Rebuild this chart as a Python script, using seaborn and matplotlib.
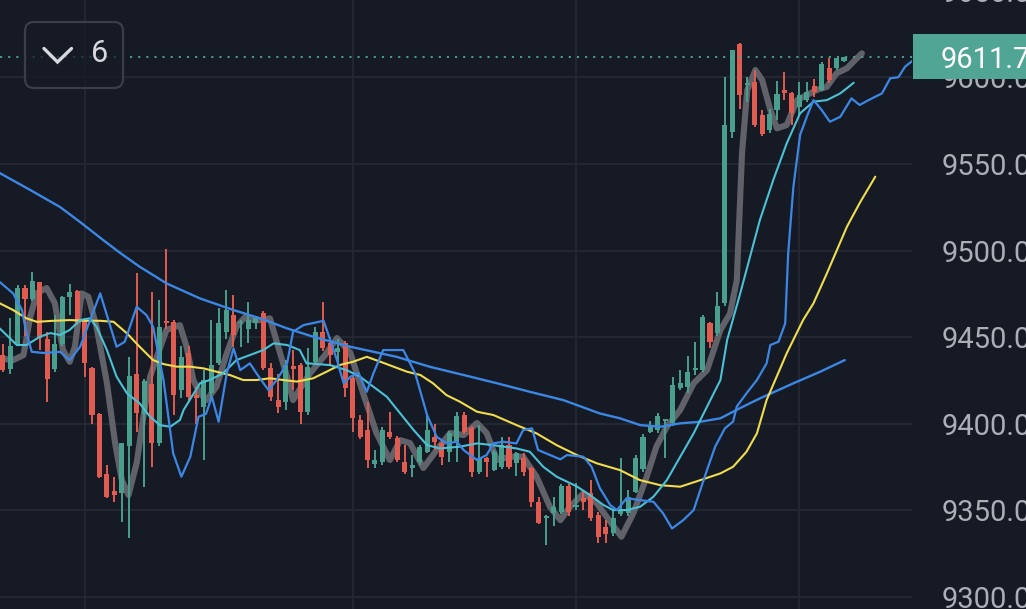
import numpy as np
import pandas as pd
import matplotlib
matplotlib.use("Agg")
import matplotlib.pyplot as plt
import seaborn as sns
from matplotlib.patches import FancyBboxPatch, Rectangle
from matplotlib.lines import Line2D
from matplotlib.transforms import IdentityTransform, blended_transform_factory

# candles, one per bar
opens = [9440, 9431.6, 9446, 9478.6, 9472, 9481.7, 9448.8, 9431.6, 9446, 9473.5,
         9476.8, 9460, 9432, 9405.7, 9371, 9361, 9359.9, 9387.2, 9428.6, 9405.7,
         9422.8, 9389, 9459.4, 9459, 9419.5, 9440.7, 9416.6, 9409.9, 9417.6, 9435,
         9453, 9462.8, 9458, 9455, 9458, 9463.8, 9432, 9413.7, 9412.8, 9433.4,
         9434, 9407, 9435.9, 9453.2, 9446.5, 9441.7, 9446.5, 9426.3, 9402.2, 9396.4,
         9377, 9378, 9395.4, 9391.6, 9378, 9374.3, 9378, 9383.9, 9392.5, 9388.7,
         9384, 9389.7, 9405, 9397.4, 9372.3, 9380, 9373.3, 9375.2, 9387.8, 9377.2,
         9380, 9374.3, 9355, 9345.5, 9348.4, 9349.2, 9364, 9352, 9357, 9360,
         9347.4, 9340.6, 9336.8, 9348, 9348.4, 9360.9, 9373.8, 9395.4, 9396.4, 9401.6,
         9400.3, 9420.5, 9421.4, 9431, 9431, 9458, 9452.2, 9469.6, 9568.6, 9619.3,
         9595.5, 9597.5, 9578.3, 9569.6, 9581.2, 9592.7, 9590.8, 9583, 9587, 9595.2,
         9592.7, 9605.2, 9605.2, 9609.5]
highs = [9446, 9461, 9480, 9480, 9487.8, 9482, 9453, 9463, 9474, 9481,
         9477, 9461, 9433, 9406, 9376, 9369.5, 9389, 9438.7, 9486.9, 9426,
         9476, 9471.5, 9500.7, 9460, 9445, 9445, 9421.4, 9431, 9460, 9466.7,
         9477, 9474.4, 9460, 9470.5, 9462, 9465, 9435, 9429, 9437, 9442.6,
         9435, 9443.6, 9456, 9470.5, 9450, 9449, 9448, 9428, 9405, 9412.8,
         9384.9, 9398, 9407, 9393, 9387.8, 9382, 9388, 9405, 9400, 9390,
         9396, 9407, 9407, 9399, 9399.3, 9381, 9385, 9392.5, 9392.5, 9383.5,
         9382.9, 9375, 9358, 9347.5, 9358, 9365, 9365, 9366, 9362, 9367.6,
         9349, 9344.5, 9350.2, 9380, 9361.8, 9382, 9394, 9401.8, 9406, 9403,
         9426.8, 9431, 9439.1, 9447.4, 9462.8, 9459, 9476.3, 9600, 9616, 9620,
         9600.4, 9604.3, 9581.2, 9581.8, 9598, 9603.3, 9591.7, 9597.5, 9597.5, 9599.2,
         9609, 9611, 9611, 9612]
lows = [9430, 9429, 9445, 9451, 9471, 9442.6, 9412.8, 9430, 9445, 9463,
        9457, 9427, 9400, 9369, 9357, 9355, 9343.5, 9333.9, 9395.4, 9363.7,
        9375, 9387, 9455, 9405, 9415, 9413, 9400, 9379, 9415, 9434,
        9449, 9444.5, 9444.5, 9446.5, 9455, 9431, 9413, 9406, 9408, 9419.5,
        9400, 9405, 9434, 9442, 9434, 9434, 9415.6, 9395.5, 9391, 9374.3,
        9374.3, 9376, 9391, 9378, 9371, 9369.5, 9376, 9383, 9385, 9376,
        9378, 9378, 9394, 9369.5, 9371, 9369.5, 9373, 9374, 9374, 9370,
        9370, 9352.2, 9342, 9330, 9341, 9348, 9347, 9350, 9350, 9344,
        9331, 9331, 9335, 9347, 9347, 9360, 9372, 9394.5, 9395, 9380,
        9399, 9419.5, 9417.6, 9428.2, 9430, 9443.6, 9451, 9468, 9565, 9582,
        9586, 9571.5, 9566, 9568, 9575.4, 9587, 9572.5, 9578.3, 9586, 9588.5,
        9592, 9596.6, 9604, 9609]
closes = [9431, 9445, 9478.6, 9472, 9482.6, 9449.4, 9425.8, 9446, 9473.4, 9476,
          9458.4, 9435.3, 9405, 9369.4, 9358, 9359, 9388.7, 9427.6, 9406, 9424.7,
          9389, 9455.7, 9458, 9416.6, 9438.7, 9415.6, 9414.7, 9425.3, 9434, 9458.4,
          9465.7, 9451.3, 9459, 9460, 9461, 9432, 9415.6, 9409.9, 9434, 9431.5,
          9407, 9433, 9453.2, 9443.6, 9439.7, 9443.6, 9420.5, 9403.2, 9392.5, 9379,
          9379, 9396.4, 9392.5, 9379, 9372.3, 9376, 9386.8, 9396.4, 9389.6, 9381,
          9395, 9404.5, 9395.4, 9372.3, 9380, 9378, 9383.9, 9387.8, 9375.2, 9383,
          9372.3, 9355, 9342.5, 9347, 9352.2, 9364, 9349.2, 9353, 9355, 9345.4,
          9334.8, 9336.4, 9345.4, 9350, 9358, 9380, 9392.5, 9398.3, 9404.5, 9402.6,
          9422.4, 9423.4, 9430, 9432, 9461.8, 9447.4, 9468, 9572.5, 9615.8, 9589.8,
          9596.5, 9572.5, 9567.1, 9578.7, 9590.2, 9590.8, 9579.3, 9589.8, 9591.4, 9591.7,
          9608, 9598.5, 9611, 9611.7]

# moving-average lines (x = bar index, y = price)
gray_x = [-0.4, 1.4, 2.8, 3.7, 4.6, 5.9, 7.0, 8.1, 9.0, 9.7, 10.6, 11.5, 12.6, 14.0, 15.1, 16.0,
          16.9, 18.0, 18.9, 19.8, 20.7, 22.0, 23.8, 24.7, 25.6, 26.5, 27.4, 28.7, 30.1, 31.4,
          32.6, 33.7, 35.0, 35.9, 37.0, 38.2, 39.0, 40.4, 41.3, 43.3, 44.9, 46.7, 48.4, 50.2,
          52.0, 53.4, 54.7, 56.5, 58.3, 60.1, 61.9, 63.7, 65.0, 66.4, 68.1, 69.9, 71.7, 73.5,
          74.9, 76.2, 78.0, 79.8, 81.1, 83.1, 84.7, 86.5, 87.8, 89.2, 91.0, 92.8, 94.6, 96.4,
          97.7, 98.6, 99.3, 100.0, 101.1, 102.0, 103.1, 104.0, 105.3, 106.7, 108.0, 109.3,
          110.7, 112.0, 113.4, 114.7, 115.4]
gray_y = [9437.8, 9436.8, 9439.7, 9461.8, 9475.5, 9478.4, 9469.7, 9442.6, 9435.8, 9444.5,
          9475.3, 9473.4, 9456.1, 9423.6, 9388.9, 9367.5, 9358.9, 9377.4, 9404.1, 9427.2,
          9438.7, 9454.2, 9457.0, 9444.5, 9425.3, 9417.6, 9413.7, 9421.4, 9440.7, 9456.1,
          9461.8, 9459.9, 9459.9, 9460.9, 9444.5, 9427.2, 9413.7, 9423.4, 9429.3, 9439.7,
          9449.5, 9440.9, 9417.8, 9394.7, 9379.1, 9390.6, 9388.9, 9374.5, 9384.9, 9394.7,
          9393.5, 9400.5, 9394.7, 9379.1, 9381.0, 9381.0, 9369.5, 9352.1, 9344.4, 9352.1,
          9359.9, 9354.1, 9346.4, 9334.8, 9348.3, 9369.5, 9386.8, 9398.3, 9408.0, 9423.4,
          9431.0, 9454.2, 9463.8, 9483.0, 9556.4, 9592.7, 9604.3, 9598.5, 9581.2, 9570.6,
          9572.5, 9586.9, 9589.8, 9592.7, 9594.6, 9602.4, 9605.3, 9611.0, 9613.9]

cyan_x = [-0.4, 1.9, 3.2, 5.0, 6.4, 7.7, 9.0, 10.4, 11.7, 12.6, 14.0, 15.3, 16.7, 18.4, 19.8,
          21.1, 22.5, 23.8, 24.3, 26.5, 27.8, 29.6, 31.4, 33.2, 35.0, 36.4, 38.2, 39.9, 40.8,
          44.0, 46.2, 48.0, 49.8, 51.6, 53.4, 55.2, 57.0, 58.7, 61.4, 63.7, 65.9, 69.0, 70.8,
          72.6, 74.4, 77.1, 78.9, 80.7, 82.0, 83.8, 85.6, 87.4, 89.2, 91.0, 92.8, 94.6, 96.4,
          97.3, 99.0, 101.7, 103.5, 105.3, 107.1, 108.9, 110.7, 112.5, 114.3]
cyan_y = [9455.1, 9445.5, 9445.5, 9450.3, 9452.4, 9451.3, 9454.2, 9459.9, 9460.9, 9456.1,
          9442.6, 9427.2, 9417.6, 9411.8, 9404.1, 9399.3, 9398.3, 9402.2, 9408.0, 9423.4,
          9425.3, 9429.2, 9436.8, 9439.7, 9442.6, 9446.5, 9445.5, 9442.6, 9435.0, 9433.9,
          9431.0, 9427.2, 9421.4, 9415.6, 9406.0, 9396.4, 9387.7, 9385.8, 9386.8, 9388.7,
          9387.7, 9385.8, 9383.9, 9375.2, 9369.5, 9363.9, 9358.8, 9353.1, 9350.2, 9350.2,
          9352.1, 9357.9, 9367.5, 9381.0, 9394.5, 9409.9, 9425.3, 9448.4, 9474.4, 9517.7,
          9540.8, 9561.9, 9579.3, 9586.0, 9586.9, 9590.8, 9596.9]

yellow_x = [-0.4, 1.4, 3.2, 4.6, 6.8, 9.0, 11.3, 13.1, 14.9, 16.7, 18.4, 20.2, 21.6, 23.4,
            25.2, 27.0, 28.7, 30.5, 32.3, 34.1, 35.9, 37.7, 39.5, 41.7, 43.5, 45.3, 47.1,
            48.9, 50.7, 52.5, 54.3, 56.1, 57.8, 59.6, 61.4, 63.7, 65.9, 69.0, 71.7, 74.4,
            77.1, 79.8, 82.9, 85.6, 88.3, 91.0, 93.7, 96.4, 98.1, 99.9, 101.3, 102.6, 105.3,
            107.5, 108.9, 110.7, 113.4, 115.2, 117.2]
yellow_y = [9469.6, 9465.7, 9460.9, 9458.9, 9459.5, 9459.9, 9459.5, 9459.5, 9458.9, 9452.2,
            9444.5, 9436.8, 9434.5, 9433.0, 9433.0, 9432.0, 9430.1, 9428.2, 9425.3, 9425.3,
            9426.3, 9425.3, 9424.4, 9426.3, 9430.1, 9434.0, 9435.9, 9438.7, 9435.9, 9433.0,
            9430.1, 9428.2, 9423.4, 9416.6, 9412.8, 9407.0, 9405.1, 9399.3, 9394.5, 9387.7,
            9382.0, 9377.2, 9373.3, 9367.5, 9364.6, 9363.7, 9367.5, 9371.4, 9375.2, 9383.9,
            9394.5, 9413.7, 9440.7, 9459.9, 9469.6, 9486.9, 9513.9, 9528.2, 9542.7]

blue_long_x = [-0.4, 3.7, 7.7, 10.4, 13.5, 15.8, 18.4, 22.0, 26.5, 31.0, 34.6, 38.2, 41.7,
               46.7, 52.9, 57.4, 61.9, 66.4, 70.8, 75.3, 80.2, 82.9, 85.6, 88.3, 91.0, 93.7,
               96.4, 99.0, 101.7, 106.2, 109.8, 113.1]
blue_long_y = [9544.8, 9535.0, 9525.2, 9516.5, 9506.1, 9498.6, 9490.7, 9481.1, 9472.4, 9465.7,
               9460.9, 9455.1, 9450.3, 9444.5, 9438.7, 9432.9, 9428.2, 9423.4, 9418.5, 9413.7,
               9406.0, 9403.2, 9399.3, 9398.3, 9400.3, 9401.2, 9403.2, 9409.0, 9414.7, 9423.4,
               9430.1, 9436.8]

blue_fast_x = [-0.4, 1.4, 2.6, 3.1, 3.9, 5.5, 7.7, 9.0, 10.4, 13.1, 14.2, 15.3, 16.4, 18.0,
               19.3, 20.2, 21.6, 22.9, 24.0, 25.2, 26.3, 27.3, 28.1, 29.0, 30.1, 31.0, 31.9,
               33.2, 34.4, 35.7, 36.8, 38.2, 39.0, 40.4, 41.7, 43.1, 44.0, 44.9, 45.8, 46.7,
               47.8, 48.9, 49.8, 51.1, 52.5, 53.8, 55.4, 57.0, 58.3, 59.6, 61.0, 61.9, 63.7,
               65.0, 65.9, 67.2, 69.0, 69.9, 71.1, 71.9, 74.9, 75.8, 78.0, 79.1, 80.2, 81.6,
               82.5, 83.8, 85.6, 87.4, 88.7, 89.9, 91.4, 92.8, 93.7, 94.6, 95.7, 97.0, 98.1,
               98.6, 99.9, 101.3, 102.6, 103.1, 104.2, 105.1, 105.5, 106.2, 107.1, 108.0,
               108.9, 110.0, 111.1, 112.5, 114.0, 115.1, 116.3, 118.1, 119.2, 120.3, 121.2, 122.3]
blue_fast_y = [9481.9, 9475.3, 9465.7, 9454.2, 9441.6, 9440.9, 9441.6, 9436.8, 9444.5, 9475.3,
               9459.9, 9444.5, 9447.4, 9467.6, 9462.8, 9456.1, 9425.3, 9383.0, 9369.5, 9381.0,
               9404.1, 9405.7, 9415.6, 9401.2, 9429.2, 9443.6, 9431.0, 9434.9, 9427.2, 9419.5,
               9425.3, 9434.9, 9453.2, 9457.0, 9458.2, 9459.5, 9448.4, 9436.8, 9423.4, 9427.2,
               9429.2, 9418.5, 9429.2, 9442.6, 9442.6, 9442.6, 9429.2, 9405.1, 9392.5, 9388.7,
               9389.7, 9384.9, 9379.1, 9382.0, 9388.7, 9389.7, 9388.7, 9396.4, 9397.4, 9384.9,
               9379.5, 9382.0, 9381.0, 9375.2, 9362.9, 9353.1, 9350.2, 9357.0, 9356.0, 9355.0,
               9348.3, 9339.6, 9344.4, 9350.2, 9361.8, 9373.4, 9386.9, 9397.4, 9401.3, 9410.0,
               9417.6, 9425.3, 9434.9, 9445.5, 9447.4, 9458.0, 9498.4, 9536.9, 9566.8, 9577.3,
               9586.9, 9581.2, 9574.4, 9577.3, 9587.9, 9584.1, 9586.9, 9590.8, 9599.5, 9600.1,
               9606.2, 9610.0]

price_ticks = [9300, 9350, 9400, 9450, 9500, 9550, 9600, 9650]
time_grid = [11, 47, 77, 107]
last_price = 9611.7
interval_label = "6"

BG = "#161a25"
GRID = "#262a35"
UP = "#4a9e8e"
DOWN = "#e05b50"
TEAL = "#50a594"

sns.set_theme(style="dark", rc={"axes.facecolor": BG, "figure.facecolor": BG,
                                "savefig.facecolor": BG})
plt.rcParams['font.family'] = ['Roboto', 'DejaVu Sans']

fig = plt.figure(figsize=(10.26, 6.09), dpi=100)
ax = fig.add_axes([0, 0, 912 / 1026, 1])

df = pd.DataFrame({"o": opens, "h": highs, "l": lows, "c": closes})
df["i"] = np.arange(len(df))
df["up"] = df["c"] >= df["o"]
colors = np.where(df["up"], UP, DOWN)
body_lo = df[["o", "c"]].min(axis=1)
body_h = (df["c"] - df["o"]).abs().clip(lower=0.9)

# thick gray average sits under the candles
sns.lineplot(x=gray_x, y=gray_y, ax=ax, color="#616269", linewidth=4.4,
             sort=False, estimator=None, zorder=2, solid_capstyle="round",
             solid_joinstyle="round")

ax.vlines(df["i"], df["l"], df["h"], colors=colors, linewidth=1.4, zorder=3)
ax.bar(df["i"], body_h, bottom=body_lo, width=0.68, color=colors, linewidth=0, zorder=3.1)

for xs, ys, col, lw in [(blue_long_x, blue_long_y, "#3c87e4", 1.7),
                        (yellow_x, yellow_y, "#f0dc4e", 1.5),
                        (cyan_x, cyan_y, "#4cc0d4", 1.5),
                        (blue_fast_x, blue_fast_y, "#3c87e4", 1.6)]:
    sns.lineplot(x=xs, y=ys, ax=ax, color=col, linewidth=lw, sort=False,
                 estimator=None, zorder=4)

ax.axhline(last_price, color=TEAL, linewidth=1.3, linestyle=(0, (1.2, 3.3)), zorder=5)

# ticks first, limits after (set_yticks would widen the view otherwise)
ax.set_xticks(time_grid)
ax.set_yticks(price_ticks)
ax.set_xlim(-0.36, 122.13)
ax.set_ylim(9293.1, 9644.7)
ax.tick_params(axis="both", length=0, labelbottom=False, labelleft=False)
ax.grid(True, color=GRID, linewidth=1.2)
ax.set_axisbelow(True)
ax.set_xlabel("")
ax.set_ylabel("")
for s in ax.spines.values():
    s.set_visible(False)

# price scale labels on the right
tr = blended_transform_factory(fig.transFigure, ax.transData)
for v in price_ticks:
    fig.text(942 / 1026, v, f"{v:.1f}", transform=tr, color="#abaeb6", fontsize=21,
             va="center_baseline", ha="left", zorder=3)

# last price tag on the price scale
fig.add_artist(Rectangle((913 / 1026, last_price - 12.7), 0.2, 26.0, transform=tr,
                         facecolor=TEAL, edgecolor="none", zorder=10))
fig.text(941 / 1026, last_price, f"{last_price:.1f}", transform=tr, color="white",
         fontsize=21, va="center_baseline", ha="left", zorder=11)

# interval box at the top left
px = IdentityTransform()
fig.add_artist(FancyBboxPatch((25, 609 - 88), 98, 66, boxstyle="round,pad=0,rounding_size=9",
                              transform=px, facecolor=(0.09, 0.10, 0.14, 0.75),
                              edgecolor="#3a3e49", linewidth=1.6, zorder=10))
fig.add_artist(Line2D([44, 57.5, 71.5], [609 - 48.5, 609 - 62, 609 - 48.5], transform=px,
                      color="#d6d8de", linewidth=2.4, solid_capstyle="round",
                      solid_joinstyle="miter", zorder=11))
fig.text(100 / 1026, 1 - 54 / 609, interval_label, color="#d6d8de", fontsize=22,
         ha="center", va="center", zorder=11)

fig.savefig("out.png", dpi=100)
